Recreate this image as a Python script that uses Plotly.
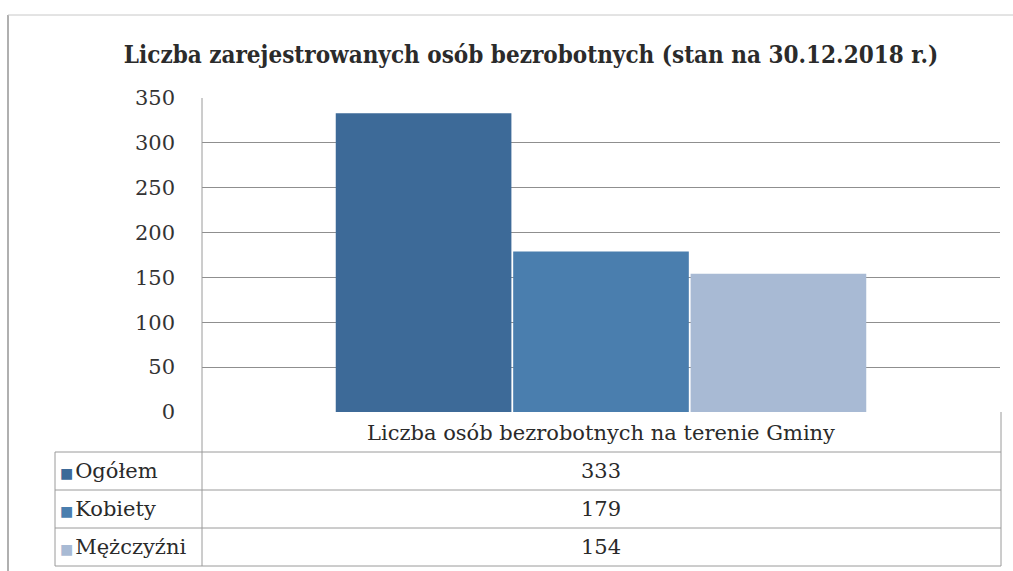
import plotly.graph_objects as go

categories = ["Liczba osób bezrobotnych na terenie Gminy"]
series_names = ["Ogółem", "Kobiety", "Mężczyźni"]
series_values = [333, 179, 154]
series_colors = ["#3D6A98", "#4A7EAE", "#A8BAD4"]
y_ticks = [0, 50, 100, 150, 200, 250, 300, 350]
title = "Liczba zarejestrowanych osób bezrobotnych (stan na 30.12.2018 r.)"

W, H = 1013, 571
L, R, T, B = 202, 13, 98, 159
PH = H - T - B
PW = W - L - R

def px(x):
    return (x - L) / PW

def py(y):
    return (H - B - y) / PH

fig = go.Figure()
for name, val, col in zip(series_names, series_values, series_colors):
    fig.add_trace(go.Bar(x=categories, y=[val], name=name, marker_color=col,
                         marker_line_width=0, showlegend=False))

serif = "DejaVu Serif"
line_col = "#9a9a9a"
shapes = []
def hline(x0, x1, y, color=line_col, w=1):
    shapes.append(dict(type="line", xref="paper", yref="paper",
                       x0=px(x0), x1=px(x1), y0=py(y), y1=py(y),
                       line=dict(color=color, width=w)))
def vline(x, y0, y1, color=line_col, w=1):
    shapes.append(dict(type="line", xref="paper", yref="paper",
                       x0=px(x), x1=px(x), y0=py(y0), y1=py(y1),
                       line=dict(color=color, width=w)))

# table grid
row_tops = [452, 490, 528, 566]
hline(55, 1001, 452)
hline(55, 1001, 490)
hline(55, 1001, 528)
hline(55, 1001, 566)
vline(202, 98, 566)
vline(1001, 412, 566)
vline(55, 452, 566)
# outer chart border (partial, as in scan)
vline(8, 15, 571, color="#b0b0b0", w=2)
hline(8, 1013, 15, color="#c8c8c8", w=1)

annotations = []
annotations.append(dict(xref="paper", yref="paper", x=px(601), y=py(433),
                        text=categories[0], showarrow=False,
                        font=dict(family=serif, size=21, color="#2a2a2a"),
                        xanchor="center", yanchor="middle"))
for i, (name, val, col) in enumerate(zip(series_names, series_values, series_colors)):
    yc = (row_tops[i] + row_tops[i + 1]) / 2
    annotations.append(dict(xref="paper", yref="paper", x=px(58), y=py(yc),
                            text=f"<span style='color:{col};font-size:14px'>■</span><span style='font-size:6px'> </span>{name}",
                            showarrow=False, xanchor="left", yanchor="middle",
                            font=dict(family=serif, size=21, color="#2a2a2a")))
    annotations.append(dict(xref="paper", yref="paper", x=px(601), y=py(yc),
                            text=str(val), showarrow=False,
                            xanchor="center", yanchor="middle",
                            font=dict(family=serif, size=21, color="#2a2a2a")))

fig.update_layout(
    width=W, height=H,
    margin=dict(l=L, r=R, t=T, b=B, autoexpand=False),
    paper_bgcolor="white", plot_bgcolor="white",
    barmode="group", bargap=0.333, bargroupgap=0.01,
    title=dict(text=f"<b>{title}</b>", x=531 / W, xanchor="center",
               y=1 - 55 / H, yanchor="middle",
               font=dict(family="DejaVu Serif Condensed, DejaVu Serif", size=24, color="#2b2b2b")),
    xaxis=dict(showticklabels=False, showgrid=False, showline=False, zeroline=False,
               ticks=""),
    yaxis=dict(range=[0, 350], tickvals=y_ticks, showgrid=True, gridcolor="#8f8f8f",
               gridwidth=1, zeroline=False, showline=False, ticks="",
               ticklabelstandoff=26,
               tickfont=dict(family=serif, size=21, color="#333")),
    shapes=shapes, annotations=annotations,
)

fig.write_html("out.html", config={"displayModeBar": False},
               post_script="document.body.style.margin='0';document.body.style.overflow='hidden';")
